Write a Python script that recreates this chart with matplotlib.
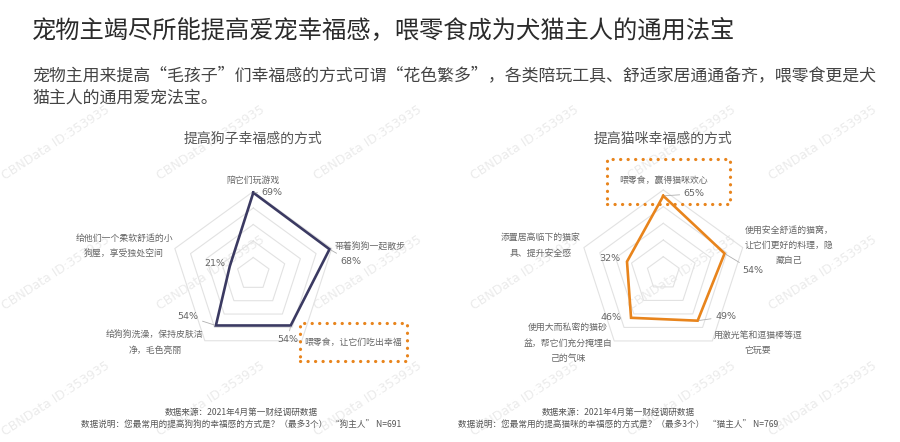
import numpy as np
import matplotlib
matplotlib.use('Agg')
import matplotlib.pyplot as plt
from matplotlib.patches import Rectangle

plt.rcParams['font.family'] = ['Noto Sans CJK SC', 'DejaVu Sans']

# ---------------- data ----------------
main_title = "宠物主竭尽所能提高爱宠幸福感，喂零食成为犬猫主人的通用法宝"
subtitle_lines = ["宠物主用来提高“毛孩子”们幸福感的方式可谓“花色繁多”，各类陪玩工具、舒适家居通通备齐，喂零食更是犬",
                  "猫主人的通用爱宠法宝。"]

dog_title = "提高狗子幸福感的方式"
dog_categories = ["陪它们玩游戏", "带着狗狗一起散步", "喂零食，让它们吃出幸福",
                  "给狗狗洗澡，保持皮肤洁\n净，毛色亮丽", "给他们一个柔软舒适的小\n狗屋，享受独处空间"]
dog_values = [69, 68, 54, 54, 21]

cat_title = "提高猫咪幸福感的方式"
cat_categories = ["喂零食，赢得猫咪欢心", "使用安全舒适的猫窝，\n让它们更好的料理，隐\n藏自己",
                  "用激光笔和逗猫棒等逗\n它玩耍", "使用大而私密的猫砂\n盆，帮它们充分掩埋自\n己的气味",
                  "添置居高临下的猫家\n具、提升安全感"]
cat_values = [65, 54, 49, 46, 32]

axis_max = 70
grid_levels = [14, 28, 42, 56, 70]

dog_notes = ["数据来源：2021年4月第一财经调研数据",
             "数据说明：您最常用的提高狗狗的幸福感的方式是？（最多3个）  “狗主人” N=691"]
cat_notes = ["数据来源：2021年4月第一财经调研数据",
             "数据说明：您最常用的提高猫咪的幸福感的方式是？（最多3个）  “猫主人” N=769"]
watermark = "CBNData ID:353935"

# ---------------- layout helpers ----------------
W, H = 900, 442
fig = plt.figure(figsize=(W / 100, H / 100), dpi=100)
fig.patch.set_facecolor('white')


def fx(x):
    return x / W


def fy(y):
    return 1 - y / H


# watermarks (background)
for row_y in [180, 310, 436]:
    for col_x in [5, 160, 317, 474, 631, 772]:
        fig.text(fx(col_x), fy(row_y), watermark, rotation=33, rotation_mode='anchor',
                 ha='left', va='baseline', fontsize=9, color='#ebebeb',
                 family='DejaVu Sans', zorder=-5)

# titles
fig.text(fx(32), fy(30), main_title, ha='left', va='center', fontsize=17.5, color='#2b2b2b')
fig.text(fx(32), fy(75), subtitle_lines[0], ha='left', va='center', fontsize=12.2, color='#444444')
fig.text(fx(32), fy(98), subtitle_lines[1], ha='left', va='center', fontsize=12.2, color='#444444')

label_color = '#666666'
grid_color = '#e2e2e2'
orange = '#e8841c'


def radar(center, radius, values, color, pct_offsets, leader):
    cx, cy = center
    rect = [fx(cx - radius), fy(cy + radius), 2 * radius / W, 2 * radius / H]
    ax = fig.add_axes(rect, projection='polar')
    ax.set_theta_offset(np.pi / 2)
    ax.set_theta_direction(-1)
    ax.set_ylim(0, axis_max)
    ax.axis('off')
    n = len(values)
    theta = np.linspace(0, 2 * np.pi, n, endpoint=False)
    tc = np.append(theta, theta[0])
    for lvl in grid_levels:
        ax.plot(tc, [lvl] * (n + 1), color=grid_color, lw=0.8, clip_on=False, zorder=1)
    vc = np.append(values, values[0])
    ax.plot(tc, vc, color=color, lw=1.9, clip_on=False, zorder=3, solid_joinstyle='miter')
    for t, v, (dx, dy), ld in zip(theta, values, pct_offsets, leader):
        kw = dict(xy=(t, v), xytext=(dx * 0.72, -dy * 0.72), textcoords='offset points',
                  ha='center', va='center', fontsize=6.8, color=label_color,
                  family=['DejaVu Sans'], annotation_clip=False, zorder=4)
        if ld:
            kw['arrowprops'] = dict(arrowstyle='-', color='#b0b0b0', lw=0.6,
                                    shrinkA=1, shrinkB=1)
        ax.annotate(f"{v}%", **kw)
    return ax


# dog radar
radar((253.3, 274), 82.5, dog_values, '#3b3a62',
      [(19, 0), (21, 12), (-3, 14), (-28, -9), (-15, -3)],
      [True, True, True, True, False])
# cat radar
radar((663.3, 273.4), 83.5, cat_values, orange,
      [(31, -2), (28, 17), (28, -4), (-20, 0), (-17, -3)],
      [True, True, True, False, False])

# chart titles
fig.text(fx(253), fy(139), dog_title, ha='center', va='center', fontsize=10, color='#555555')
fig.text(fx(663), fy(139), cat_title, ha='center', va='center', fontsize=10, color='#555555')

# category labels
dog_label_pos = [(253, 180), (370, 247), (353.5, 342.5), (155, 342.5), (124, 246.5)]
cat_label_pos = [(664, 180), (789, 245.5), (758, 343), (568, 343), (541, 245.5)]
for txt, (x, y) in zip(dog_categories, dog_label_pos):
    fig.text(fx(x), fy(y), txt, ha='center', va='center', fontsize=6.4,
             color=label_color, linespacing=2.0, multialignment='center')
for txt, (x, y) in zip(cat_categories, cat_label_pos):
    fig.text(fx(x), fy(y), txt, ha='center', va='center', fontsize=6.4,
             color=label_color, linespacing=1.9, multialignment='center')

# dotted highlight boxes
for (x0, y0, x1, y1) in [(300, 322.7, 407, 360.7), (606.7, 159.3, 730, 204)]:
    r = Rectangle((fx(x0), fy(y1)), (x1 - x0) / W, (y1 - y0) / H, transform=fig.transFigure,
                  fill=False, edgecolor=orange, lw=2.3, linestyle=(0, (0.05, 2.3)),
                  capstyle='round', zorder=5)
    fig.add_artist(r)

# notes
for notes, cx in [(dog_notes, 241), (cat_notes, 618)]:
    fig.text(fx(cx), fy(412), notes[0], ha='center', va='center', fontsize=6.2, color='#555555')
    fig.text(fx(cx), fy(425), notes[1], ha='center', va='center', fontsize=6.2, color='#555555')

fig.savefig('out.png', dpi=100, facecolor='white')
